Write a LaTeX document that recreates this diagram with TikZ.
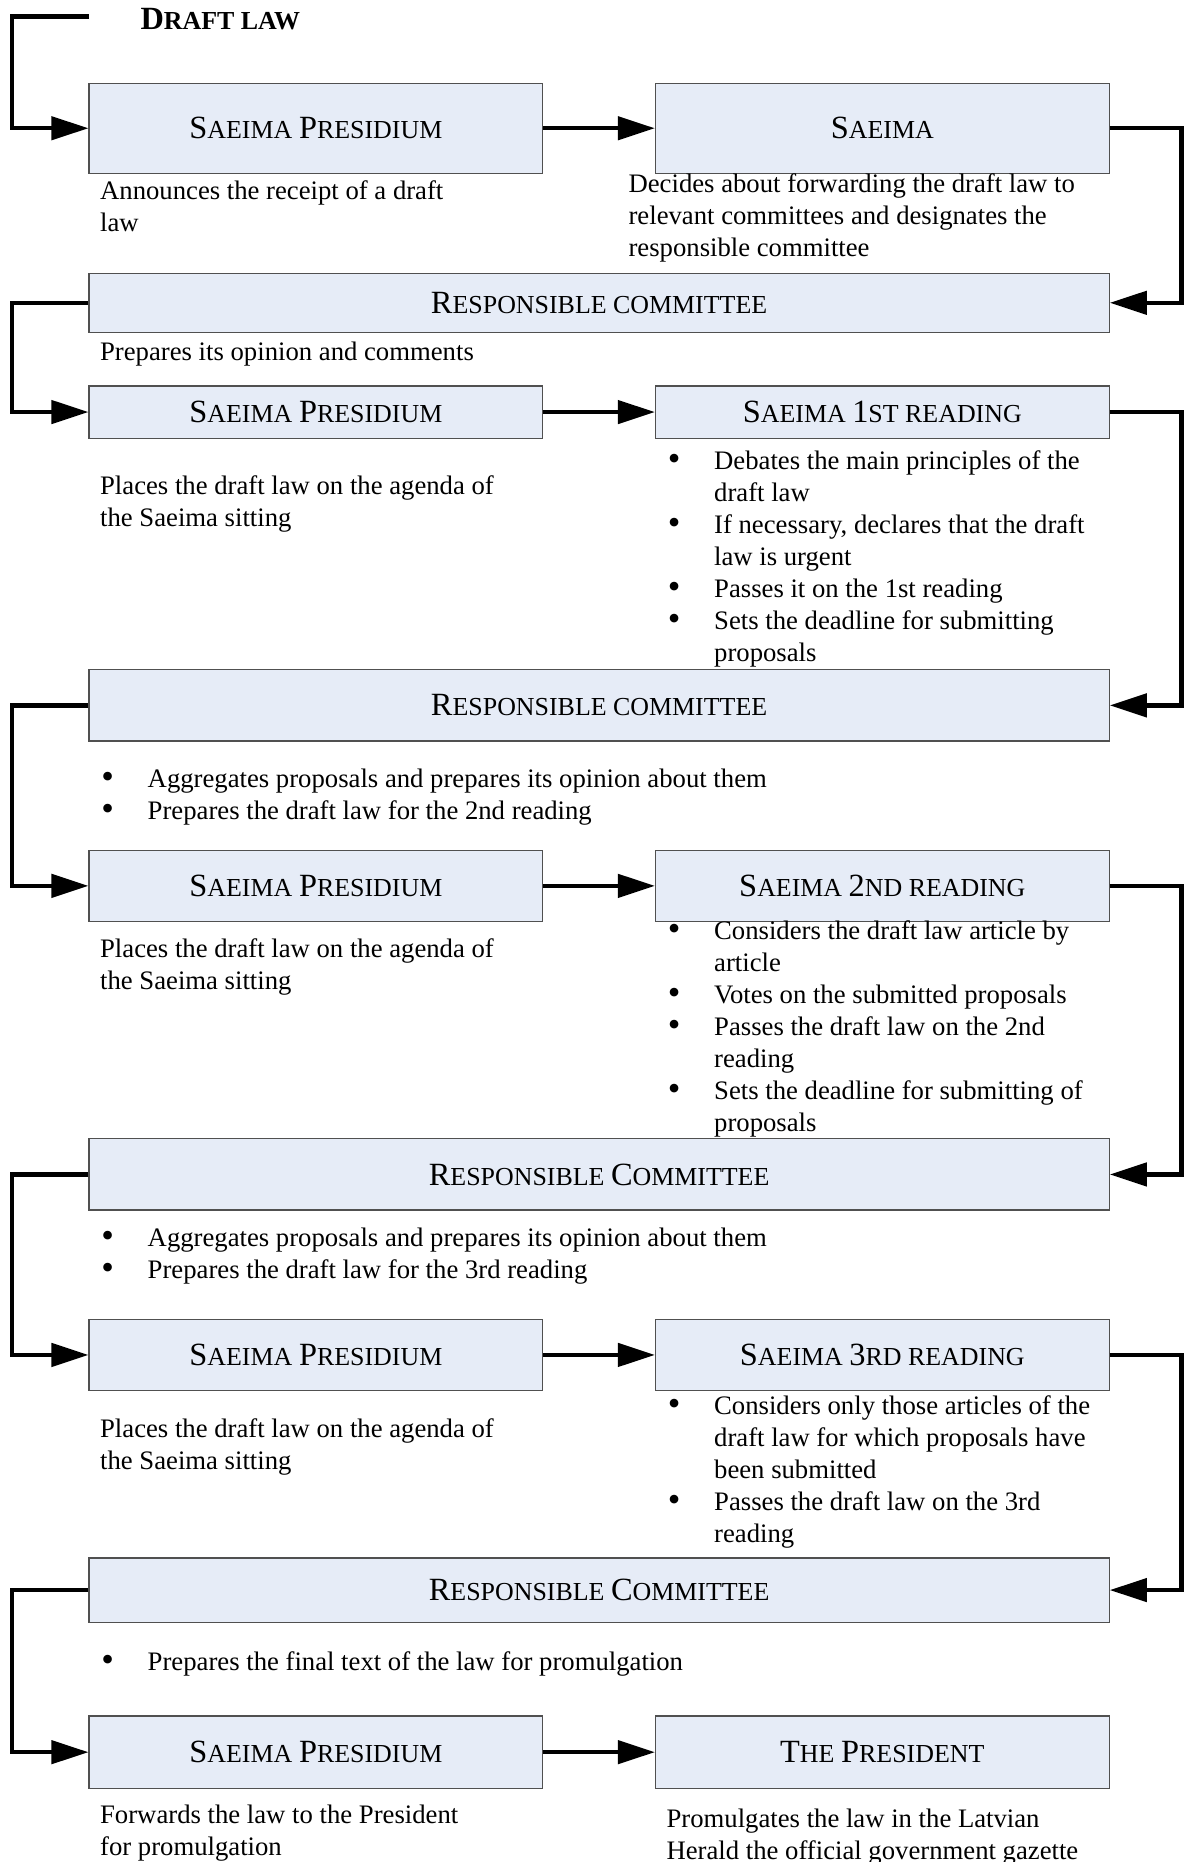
\documentclass[tikz,border=0pt]{standalone}
\usepackage{fontspec}
\setmainfont{Liberation Serif}
\usetikzlibrary{arrows.meta}
\definecolor{boxfill}{RGB}{230,236,247}
\definecolor{boxline}{RGB}{80,80,80}
\newcommand\capbig[1]{{\fontsize{16.2}{19}\selectfont #1}}
\newcommand\capsmall[1]{{\fontsize{12.96}{16}\selectfont #1}}
\newcommand\bodyfont{\fontsize{13.35}{16}\selectfont}
\newcommand\bul{\makebox[23.2pt][l]{\smash{\raisebox{-0.6pt}{\fontsize{18}{16}\selectfont\textbullet}}}}
\begin{document}
\begin{tikzpicture}[x=0.5938pt,y=-0.5938pt,
  box/.style={draw=boxline, fill=boxfill, line width=0.6pt, inner sep=0pt, font=\bodyfont},
  half/.style={box, minimum width=226.8pt},
  full/.style={box, minimum width=510.1pt},
  conn/.style={line width=2.2pt, -{Triangle[length=18.5pt,width=11.5pt]}},
  txt/.style={anchor=north west, inner sep=0pt, yshift=11.2pt, font=\bodyfont}]
\useasboundingbox (0,0) rectangle (997,1568);
\coordinate (L) at (10,0);
\coordinate (R) at (995,0);

% title
\node[anchor=base west, inner sep=0pt, font=\bfseries] (title) at (118,25)
  {\capbig{\textbf{D}}\capsmall{\textbf{RAFT LAW}}};
\coordinate (dls) at (75,14);

% row 1
\node[half, minimum height=45.1pt] (sp1) at (266,108) {\capbig{S}\capsmall{AEIMA} \capbig{P}\capsmall{RESIDIUM}};
\node[half, minimum height=45.1pt] (sa) at (743,108) {\capbig{S}\capsmall{AEIMA}};
\node[txt] (t1) at (84,168) {\begin{tabular}{@{}l@{}}Announces the receipt of a draft\\law\end{tabular}};
\node[txt] (t2) at (529,162) {\begin{tabular}{@{}l@{}}Decides about forwarding the draft law to\\relevant committees and designates the\\responsible committee\end{tabular}};

% rc1
\node[full, minimum height=29.7pt] (rc1) at (504.5,255) {\capbig{R}\capsmall{ESPONSIBLE COMMITTEE}};
\node[txt] (t3) at (84,303) {\begin{tabular}{@{}l@{}}Prepares its opinion and comments\end{tabular}};

% row 2
\node[half, minimum height=26.1pt] (sp2) at (266,347) {\capbig{S}\capsmall{AEIMA} \capbig{P}\capsmall{RESIDIUM}};
\node[half, minimum height=26.1pt] (r1) at (743,347) {\capbig{S}\capsmall{AEIMA }\capbig{1}\capsmall{ST READING}};
\node[txt] (t4) at (84,416) {\begin{tabular}{@{}l@{}}Places the draft law on the agenda of\\the Saeima sitting\end{tabular}};
\node[txt] (t5) at (562,395) {\begin{tabular}{@{}l@{}l@{}}
\bul & Debates the main principles of the\\
 & draft law\\
\bul & If necessary, declares that the draft\\
 & law is urgent\\
\bul & Passes it on the 1st reading\\
\bul & Sets the deadline for submitting\\
 & proposals\end{tabular}};

% rc2
\node[full, minimum height=35.6pt] (rc2) at (504.5,594) {\capbig{R}\capsmall{ESPONSIBLE COMMITTEE}};
\node[txt] (t6) at (85,663) {\begin{tabular}{@{}l@{}l@{}}
\bul & Aggregates proposals and prepares its opinion about them\\
\bul & Prepares the draft law for the 2nd reading\end{tabular}};

% row 3
\node[half, minimum height=35.6pt] (sp3) at (266,746) {\capbig{S}\capsmall{AEIMA} \capbig{P}\capsmall{RESIDIUM}};
\node[half, minimum height=35.6pt] (r2) at (743,746) {\capbig{S}\capsmall{AEIMA }\capbig{2}\capsmall{ND READING}};
\node[txt] (t7) at (84,806) {\begin{tabular}{@{}l@{}}Places the draft law on the agenda of\\the Saeima sitting\end{tabular}};
\node[txt] (t8) at (562,791) {\begin{tabular}{@{}l@{}l@{}}
\bul & Considers the draft law article by\\
 & article\\
\bul & Votes on the submitted proposals\\
\bul & Passes the draft law on the 2nd\\
 & reading\\
\bul & Sets the deadline for submitting of\\
 & proposals\end{tabular}};

% rc3
\node[full, minimum height=35.6pt] (rc3) at (504.5,989) {\capbig{R}\capsmall{ESPONSIBLE }\capbig{C}\capsmall{OMMITTEE}};
\node[txt] (t9) at (85,1049) {\begin{tabular}{@{}l@{}l@{}}
\bul & Aggregates proposals and prepares its opinion about them\\
\bul & Prepares the draft law for the 3rd reading\end{tabular}};

% row 4
\node[half, minimum height=35.6pt] (sp4) at (266,1141) {\capbig{S}\capsmall{AEIMA} \capbig{P}\capsmall{RESIDIUM}};
\node[half, minimum height=35.6pt] (r3) at (743,1141) {\capbig{S}\capsmall{AEIMA }\capbig{3}\capsmall{RD READING}};
\node[txt] (t10) at (84,1210) {\begin{tabular}{@{}l@{}}Places the draft law on the agenda of\\the Saeima sitting\end{tabular}};
\node[txt] (t11) at (562,1191) {\begin{tabular}{@{}l@{}l@{}}
\bul & Considers only those articles of the\\
 & draft law for which proposals have\\
 & been submitted\\
\bul & Passes the draft law on the 3rd\\
 & reading\end{tabular}};

% rc4
\node[full, minimum height=32.1pt] (rc4) at (504.5,1339) {\capbig{R}\capsmall{ESPONSIBLE }\capbig{C}\capsmall{OMMITTEE}};
\node[txt] (t12) at (85,1406) {\begin{tabular}{@{}l@{}l@{}}
\bul & Prepares the final text of the law for promulgation\end{tabular}};

% row 5
\node[half, minimum height=36.2pt] (sp5) at (266,1475.5) {\capbig{S}\capsmall{AEIMA} \capbig{P}\capsmall{RESIDIUM}};
\node[half, minimum height=36.2pt] (pr) at (743,1475.5) {\capbig{T}\capsmall{HE} \capbig{P}\capsmall{RESIDENT}};
\node[txt] (t13) at (84,1535) {\begin{tabular}{@{}l@{}}Forwards the law to the President\\for promulgation\end{tabular}};
\node[txt] (t14) at (561,1539) {\begin{tabular}{@{}l@{}}Promulgates the law in the Latvian\\Herald the official government gazette\end{tabular}};

% connectors
\draw[conn] (dls) -- (dls -| L) |- (sp1.west);
\draw[conn] (sp1) -- (sa);
\draw[conn] (sa.east) -- (sa.east -| R) |- (rc1.east);
\draw[conn] (rc1.west) -- (rc1.west -| L) |- (sp2.west);
\draw[conn] (sp2) -- (r1);
\draw[conn] (r1.east) -- (r1.east -| R) |- (rc2.east);
\draw[conn] (rc2.west) -- (rc2.west -| L) |- (sp3.west);
\draw[conn] (sp3) -- (r2);
\draw[conn] (r2.east) -- (r2.east -| R) |- (rc3.east);
\draw[conn] (rc3.west) -- (rc3.west -| L) |- (sp4.west);
\draw[conn] (sp4) -- (r3);
\draw[conn] (r3.east) -- (r3.east -| R) |- (rc4.east);
\draw[conn] (rc4.west) -- (rc4.west -| L) |- (sp5.west);
\draw[conn] (sp5) -- (pr);
\end{tikzpicture}
\end{document}
